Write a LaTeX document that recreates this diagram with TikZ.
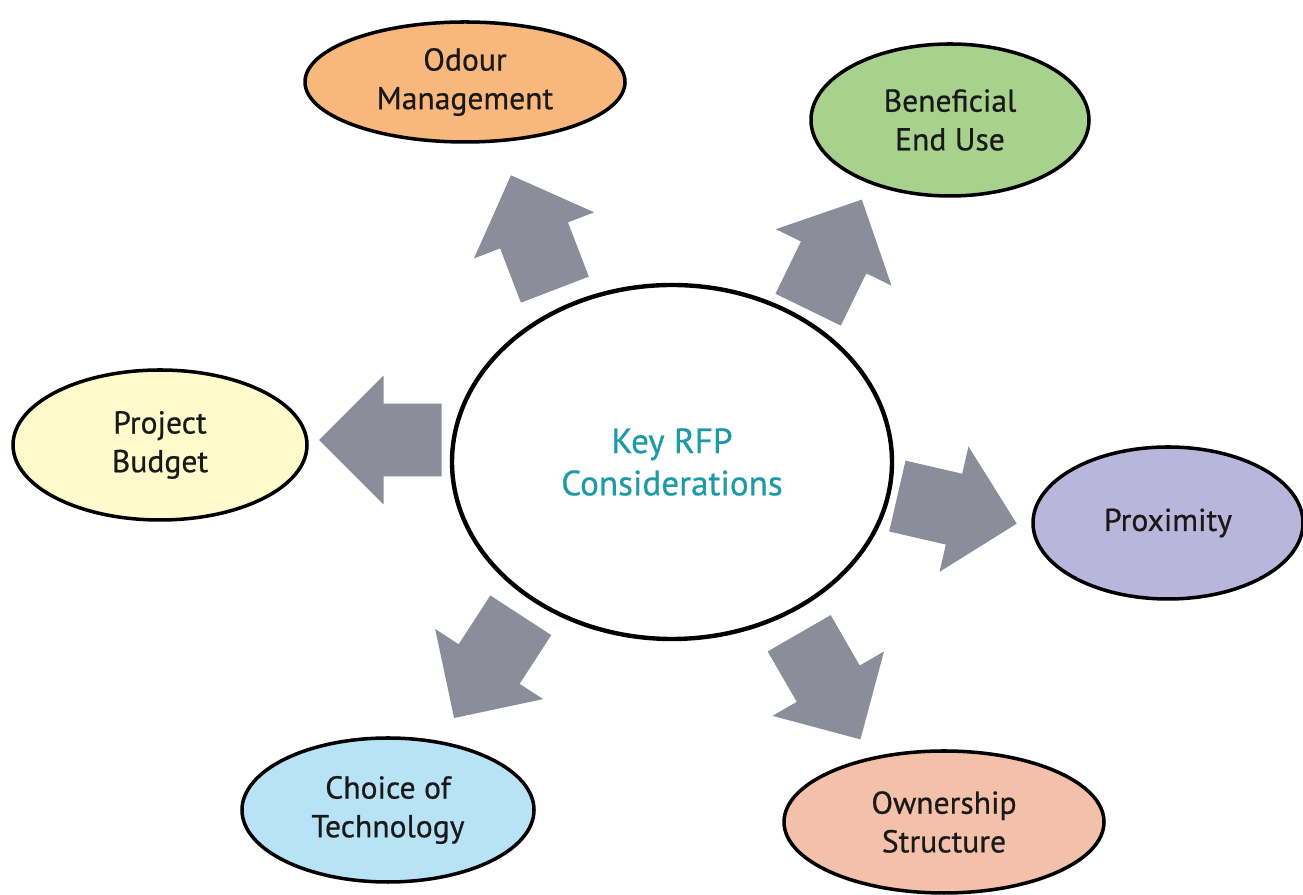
\documentclass[tikz,border=0pt]{standalone}
\usepackage{fontspec}
\setmainfont{PT Sans}[FakeBold=0.6]
\usetikzlibrary{shapes.geometric,shapes.arrows}
\definecolor{keyteal}{HTML}{1E9AA6}
\definecolor{arrowgray}{HTML}{8B8D9B}
\definecolor{odourfill}{HTML}{F8B77C}
\definecolor{endusefill}{HTML}{A9D18E}
\definecolor{budgetfill}{HTML}{FFFACB}
\definecolor{proxfill}{HTML}{B9B5DB}
\definecolor{techfill}{HTML}{B8E2F6}
\definecolor{ownfill}{HTML}{F3C0AA}
\tikzset{
	topic/.style={ellipse,draw=black,line width=2pt,inner sep=0pt,align=center,
		text=black!90,font=\fontsize{18}{22}\selectfont},
	bigarrow/.style={single arrow,fill=arrowgray,draw=none,anchor=tail,inner xsep=0pt,inner ysep=0.72cm,
		minimum height=2.45cm,single arrow head extend=0.56cm}
}
\begin{document}
\begin{tikzpicture}[line join=round]
	\useasboundingbox (0,0) rectangle (26.06,17.90);
	\node[ellipse,draw=black,line width=2.5pt,minimum width=8.8cm,minimum height=7.08cm,
		align=center,text=keyteal,font=\fontsize{20}{24}\selectfont] (key) at (13.44,8.66) {Key RFP\\Considerations};
	% outer topics
	\node[topic,fill=odourfill,minimum width=6.4cm,minimum height=2.4cm] (odour) at (9.30,16.26) {Odour\\Management};
	\node[topic,fill=endusefill,minimum width=5.56cm,minimum height=3.04cm] (enduse) at (19.00,15.50) {Beneficial\\End Use};
	\node[topic,fill=budgetfill,minimum width=5.88cm,minimum height=3.0cm] (budget) at (3.20,9.00) {Project\\Budget};
	\node[topic,fill=proxfill,minimum width=5.4cm,minimum height=3.04cm] (prox) at (23.36,7.44) {Proximity};
	\node[topic,fill=techfill,minimum width=5.84cm,minimum height=2.88cm] (tech) at (7.76,1.70) {Choice of\\Technology};
	\node[topic,fill=ownfill,minimum width=6.4cm,minimum height=2.84cm] (own) at (18.88,1.46) {Ownership\\Structure};
	% block arrows
	\foreach \x/\y/\a/\n in {11.10/12.10/111/odourarrow,16.16/11.70/64/endusearrow,8.84/9.10/180/budgetarrow,
		17.94/7.98/-13/proxarrow,10.42/5.60/237/techarrow,15.98/5.24/-60/ownarrow}
	\node[bigarrow,rotate=\a] (\n) at (\x,\y) {};
\end{tikzpicture}
\end{document}
